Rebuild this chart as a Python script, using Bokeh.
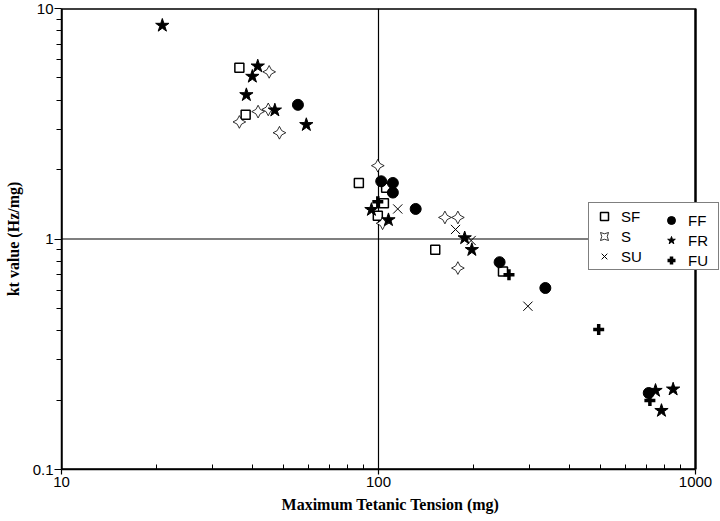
import numpy as np
from bokeh.plotting import figure
from bokeh.models import (Legend, LegendItem, FixedTicker, BasicTickFormatter,
                          BoxAnnotation)
from bokeh.embed import file_html
from bokeh.resources import INLINE

# ---- data ----
sf_x = [36.4, 38.1, 86.7, 105.7, 104, 99.5, 151, 247]
sf_y = [5.53, 3.46, 1.75, 1.67, 1.43, 1.26, 0.898, 0.723]

s_x = [45.2, 41.7, 44.9, 36.4, 48.7, 99.5, 103, 162, 178, 178]
s_y = [5.31, 3.57, 3.65, 3.22, 2.89, 2.08, 1.17, 1.24, 1.24, 0.748]

su_x = [115, 175, 196, 296]
su_y = [1.35, 1.10, 0.985, 0.511]

ff_x = [55.7, 102, 111, 111, 131, 241, 336, 712]
ff_y = [3.82, 1.78, 1.75, 1.59, 1.35, 0.793, 0.613, 0.2147]

fr_x = [20.8, 41.6, 40.0, 38.3, 47.1, 59.2, 95, 107.5, 187, 197, 748, 850, 781]
fr_y = [8.44, 5.62, 5.07, 4.22, 3.62, 3.13, 1.34, 1.21, 1.01, 0.898, 0.22, 0.223, 0.18]

fu_x = [99.5, 258, 495, 718]
fu_y = [1.45, 0.70, 0.405, 0.199]

x_major = [10, 100, 1000]
x_minor = [20, 30, 40, 50, 60, 70, 80, 90, 200, 300, 400, 500, 600, 700, 800, 900]
y_major = [0.1, 1, 10]
y_minor = [0.2, 0.3, 0.4, 0.5, 0.6, 0.7, 0.8, 0.9, 2, 3, 4, 5, 6, 7, 8, 9]

x_label = "Maximum Tetanic Tension (mg)"
y_label = "kt value (Hz/mg)"

x_lo, x_hi = x_major[0], x_major[-1]
y_lo, y_hi = y_major[0], y_major[-1]

# the frame is widened past x=1000 so the legend (which overhangs the
# right border in the original) is not clipped; the visible box is drawn
# separately between 10 and 1000
frame_px = 634.0
extra_px = 24.0
x_end = x_hi * 10 ** (2 * extra_px / frame_px)

p = figure(width=720, height=521, x_axis_type="log", y_axis_type="log",
           x_range=(x_lo, x_end), y_range=(y_lo, y_hi),
           output_backend="svg", toolbar_location=None,
           min_border_left=61, min_border_right=1,
           min_border_top=8, min_border_bottom=52)

p.background_fill_color = "white"
p.border_fill_color = "white"
p.outline_line_color = None

p.xaxis.ticker = FixedTicker(ticks=x_major, minor_ticks=x_minor)
p.yaxis.ticker = FixedTicker(ticks=y_major, minor_ticks=y_minor)
p.xaxis.formatter = BasicTickFormatter()
p.yaxis.formatter = BasicTickFormatter()
p.xaxis.bounds = (x_lo, x_hi)

for ax in (p.xaxis, p.yaxis):
    ax.axis_line_color = "black"
    ax.axis_line_width = 1.5
    ax.major_tick_line_color = "black"
    ax.minor_tick_line_color = "black"
    ax.major_tick_line_width = 1.2
    ax.minor_tick_line_width = 1
    ax.major_label_text_font = "Liberation Sans"
    ax.major_label_text_font_size = "15px"
    ax.major_label_text_color = "black"
    ax.axis_label_text_font = "Liberation Serif"
    ax.axis_label_text_font_style = "bold"
    ax.axis_label_text_font_size = "16px"
    ax.axis_label_text_color = "black"

p.xaxis.major_tick_out = 5
p.xaxis.major_tick_in = 0
p.xaxis.minor_tick_in = 5
p.xaxis.minor_tick_out = 0
p.xaxis.major_label_standoff = 2
p.xaxis.axis_label_standoff = 6
p.xaxis.axis_label = x_label

p.yaxis.major_tick_out = 7
p.yaxis.major_tick_in = 0
p.yaxis.minor_tick_out = 5
p.yaxis.minor_tick_in = 0
p.yaxis.major_label_standoff = 1
p.yaxis.axis_label_standoff = 8
p.yaxis.axis_label = y_label

p.xgrid.grid_line_color = "black"
p.xgrid.grid_line_width = 1.2
p.ygrid.grid_line_color = None

# plot box and the horizontal line at y=1, bounded to x in [10, 1000]
p.add_layout(BoxAnnotation(left=x_lo, right=x_hi, bottom=y_lo, top=y_hi,
                           fill_alpha=0, line_color="black", line_alpha=1,
                           line_width=2.4, level="underlay"))
p.add_layout(BoxAnnotation(left=x_lo, right=x_hi, bottom=y_major[1], top=y_hi,
                           fill_alpha=0, line_color="black", line_alpha=1,
                           line_width=1.2, level="underlay"))

r_sf = p.scatter(sf_x, sf_y, marker="square", size=9, fill_color="white",
                 line_color="black", line_width=1.5)
r_s = p.scatter(s_x, s_y, marker="square_pin", angle=np.pi / 4, size=9,
                fill_color="white", line_color="black", line_width=0.8)
r_su = p.scatter(su_x, su_y, marker="x", size=13, line_color="black", line_width=1)
r_ff = p.scatter(ff_x, ff_y, marker="circle", size=11, fill_color="black",
                 line_color="black")
r_fr = p.scatter(fr_x, fr_y, marker="star", size=14, fill_color="black",
                 line_color="black")
r_fu = p.scatter(fu_x, fu_y, marker="cross", size=11, line_color="black",
                 line_width=3.5)


def style_legend(lg, boxed):
    lg.label_text_font = "Liberation Sans"
    lg.label_text_font_size = "15px"
    lg.label_text_color = "black"
    lg.padding = 3
    lg.spacing = 0
    lg.margin = 0
    lg.glyph_width = 24
    lg.glyph_height = 20
    lg.label_height = 20
    lg.label_standoff = 5
    if boxed:
        lg.border_line_color = "black"
        lg.border_line_width = 1.5
        lg.background_fill_color = "white"
        lg.background_fill_alpha = 1
    else:
        lg.border_line_color = None
        lg.background_fill_alpha = 0


leg1 = Legend(items=[
    LegendItem(label="SF", renderers=[r_sf]),
    LegendItem(label="S", renderers=[r_s]),
    LegendItem(label="SU", renderers=[r_su]),
], location=(527, 199), orientation="vertical")
style_legend(leg1, True)
leg1.label_width = 94

leg2 = Legend(items=[
    LegendItem(label="FF", renderers=[r_ff]),
    LegendItem(label="FR", renderers=[r_fr]),
    LegendItem(label="FU", renderers=[r_fu]),
], location=(598, 199), orientation="vertical")
style_legend(leg2, False)

p.add_layout(leg1)
p.add_layout(leg2)

open("out.html", "w").write(file_html(p, INLINE))
